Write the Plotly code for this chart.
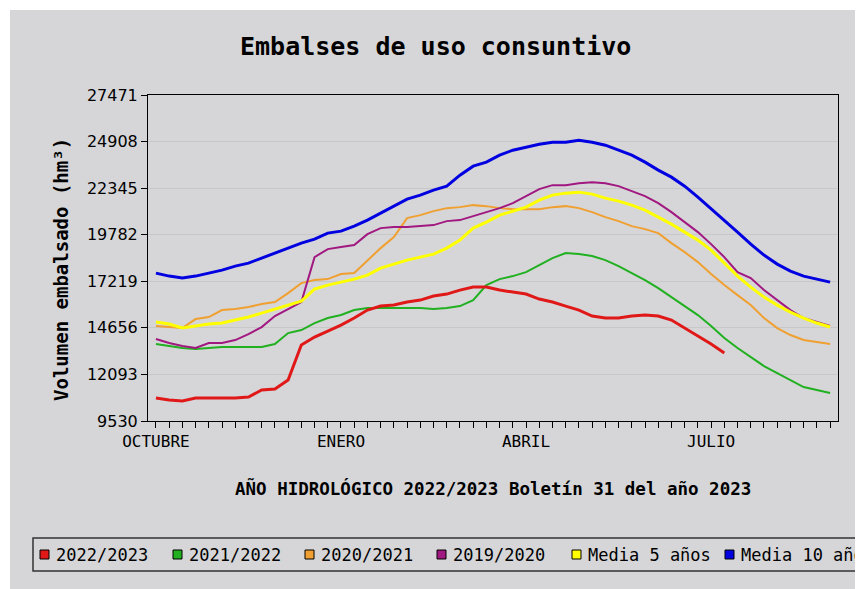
import plotly.graph_objects as go

weeks = list(range(52))
tick_labels = {0: 'OCTUBRE', 14: 'ENERO', 28: 'ABRIL', 42: 'JULIO'}
y_ticks = [9530, 12093, 14656, 17219, 19782, 22345, 24908, 27471]

s_2022 = [10795, 10685, 10630, 10795, 10795, 10795, 10795, 10850, 11235, 11290,
          11785, 13710, 14150, 14480, 14810, 15195, 15635, 15855, 15910, 16075,
          16185, 16405, 16515, 16735, 16900, 16900, 16735, 16625, 16515, 16240,
          16075, 15855, 15635, 15305, 15195, 15195, 15305, 15360, 15305, 15085,
          14645, 14205, 13765, 13270]
s_2021 = [13765, 13655, 13545, 13490, 13545, 13600, 13600, 13600, 13600, 13765,
          14370, 14535, 14920, 15195, 15360, 15635, 15745, 15745, 15745, 15745,
          15745, 15690, 15745, 15855, 16185, 17010, 17340, 17505, 17725, 18110,
          18495, 18770, 18715, 18605, 18385, 18055, 17670, 17285, 16845, 16350,
          15855, 15360, 14755, 14095, 13545, 13050, 12555, 12170, 11785, 11400,
          11235, 11070]
s_2020 = [14755, 14700, 14645, 15140, 15250, 15635, 15690, 15800, 15965, 16075,
          16570, 17120, 17285, 17340, 17615, 17670, 18385, 19045, 19650, 20695,
          20860, 21080, 21245, 21300, 21410, 21355, 21245, 21190, 21190, 21190,
          21300, 21355, 21245, 21025, 20750, 20530, 20255, 20090, 19870, 19320,
          18825, 18275, 17615, 17010, 16460, 15910, 15195, 14645, 14260, 13985,
          13875, 13765]
s_2019 = [14040, 13820, 13655, 13545, 13820, 13820, 13985, 14315, 14700, 15305,
          15690, 16075, 18550, 18990, 19100, 19210, 19815, 20145, 20200, 20200,
          20255, 20310, 20530, 20585, 20805, 21025, 21245, 21520, 21905, 22290,
          22510, 22510, 22620, 22675, 22620, 22455, 22180, 21905, 21520, 21025,
          20475, 19925, 19265, 18550, 17725, 17395, 16735, 16185, 15635, 15195,
          14975, 14755]
media_5 = [14975, 14865, 14645, 14755, 14865, 14920, 15085, 15250, 15470, 15690,
           15910, 16130, 16790, 17010, 17175, 17340, 17560, 17945, 18165, 18385,
           18550, 18715, 19045, 19485, 20145, 20475, 20860, 21080, 21300, 21685,
           21960, 22070, 22125, 22015, 21795, 21630, 21410, 21135, 20750, 20365,
           19925, 19485, 18935, 18220, 17505, 16900, 16350, 15910, 15525, 15195,
           14920, 14700]
media_10 = [17670, 17505, 17395, 17505, 17670, 17835, 18055, 18220, 18495, 18770,
            19045, 19320, 19540, 19870, 19980, 20255, 20585, 20970, 21355, 21740,
            21960, 22235, 22455, 23060, 23555, 23775, 24160, 24435, 24600, 24765,
            24875, 24875, 24985, 24875, 24710, 24435, 24160, 23775, 23335, 22950,
            22455, 21850, 21190, 20585, 19925, 19265, 18660, 18165, 17780, 17505,
            17340, 17175]

series = [
    ('2022/2023', s_2022, '#e01818', 3),
    ('2021/2022', s_2021, '#20b020', 2),
    ('2020/2021', s_2020, '#f0a030', 2),
    ('2019/2020', s_2019, '#a01880', 2),
    ('Media 5 años', media_5, '#ffff00', 3),
    ('Media 10 años', media_10, '#0000e0', 3),
]

OFF = 8  # page body margin
L, R, T, B = 148 - OFF, 838 - OFF, 95 - OFF, 421 - OFF
W, H = 863 - OFF, 589 - OFF


def px(x):
    return (x - OFF - L) / (R - L)


def py(y):
    return (B - (y - OFF)) / (B - T)


fig = go.Figure()
for name, vals, color, w in [series[1], series[2], series[3], series[4], series[0], series[5]]:
    fig.add_trace(go.Scatter(x=weeks[:len(vals)], y=vals, mode='lines', name=name,
                             line=dict(color=color, width=w), showlegend=False))

mono = 'DejaVu Sans Mono'
shapes = [
    dict(type='rect', xref='paper', yref='paper', x0=px(10), x1=px(900), y0=py(600), y1=py(10),
         fillcolor='#d6d6d8', line=dict(width=0), layer='below'),
    dict(type='rect', xref='paper', yref='paper', x0=px(33), x1=px(900), y0=py(571), y1=py(538),
         fillcolor='rgba(0,0,0,0)', line=dict(color='#333', width=1.5)),
]
annotations = [
    dict(text='<b>Embalses de uso consuntivo</b>', x=px(435), y=py(47), xref='paper', yref='paper',
         yanchor='middle', showarrow=False, font=dict(family=mono, size=25, color='black')),
    dict(text='<b>AÑO HIDROLÓGICO 2022/2023 Boletín 31 del año 2023</b>', x=px(493), y=py(488),
         xref='paper', yref='paper', yanchor='middle', showarrow=False,
         font=dict(family=mono, size=17.5, color='black')),
    dict(text='<b>Volumen embalsado (hm³)</b>', x=px(48), y=py(270), xref='paper', yref='paper',
         textangle=-90, showarrow=False, font=dict(family=mono, size=19, color='black')),
]
leg_x = [40, 173, 305, 437, 572, 725]
for (name, vals, color, w), lx in zip(series, leg_x):
    shapes.append(dict(type='rect', xref='paper', yref='paper', x0=px(lx), x1=px(lx + 9),
                       y0=py(559), y1=py(550), fillcolor=color, line=dict(color='black', width=1)))
    annotations.append(dict(text=name, x=px(lx + 14), y=py(555), xref='paper', yref='paper',
                            xanchor='left', yanchor='middle', showarrow=False,
                            font=dict(family=mono, size=17, color='black')))

fig.update_layout(
    width=W, height=H,
    margin=dict(l=L, r=W - R, t=T, b=H - B),
    paper_bgcolor='white', plot_bgcolor='white',
    shapes=shapes, annotations=annotations,
    xaxis=dict(range=[-0.6, 51.6], tickvals=weeks,
               ticktext=[tick_labels.get(w, '') for w in weeks],
               ticks='outside', ticklen=6, tickcolor='black', showgrid=False,
               showline=True, linecolor='black', mirror=True, zeroline=False,
               tickfont=dict(family=mono, size=16, color='black')),
    yaxis=dict(range=[9530, 27471], tickvals=y_ticks, ticktext=[str(v) for v in y_ticks],
               ticks='outside', ticklen=6,
               tickcolor='black', showline=True, linecolor='black', mirror=True,
               gridcolor='#c8c8c8', zeroline=False,
               tickfont=dict(family='DejaVu Sans', size=16, color='black')),
)

fig.write_html('out.html')
